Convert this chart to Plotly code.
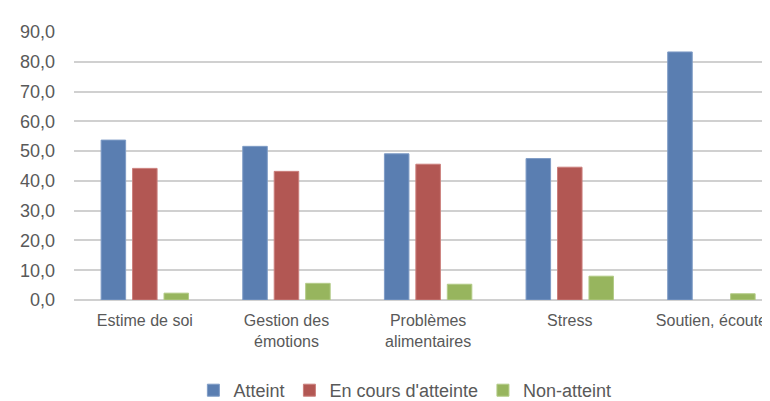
import plotly.graph_objects as go

categories = ["Estime de soi", "Gestion des<br>émotions", "Problèmes<br>alimentaires",
              "Stress", "Soutien, écoute"]
atteint = [53.7, 51.6, 49.1, 47.5, 83.3]
en_cours = [44.2, 43.2, 45.6, 44.6, None]
non_atteint = [2.3, 5.6, 5.3, 8.0, 2.1]

BLUE = "#5A7EB1"
RED = "#B25753"
GREEN = "#97B55E"
TEXT = "#595959"
GRID = "#D0D0D0"
FONT = "Liberation Sans, Arial, sans-serif"

fig = go.Figure()
for name, vals, col, edge in [
    ("Atteint", atteint, BLUE, "#7F9CC6"),
    ("En cours d'atteinte", en_cours, RED, "#CB7F7C"),
    ("Non-atteint", non_atteint, GREEN, "#B3CB87"),
]:
    fig.add_trace(go.Bar(
        x=categories, y=vals, name=name,
        marker=dict(color=col, line=dict(color=edge, width=1)),
    ))

fig.update_layout(
    width=770, height=401,
    margin=dict(l=66, r=0, t=24, b=104),
    paper_bgcolor="white", plot_bgcolor="white",
    font=dict(family=FONT, size=18, color=TEXT),
    barmode="group", bargap=0.334, bargroupgap=0.22,
    separators=", ",
    legend=dict(
        orientation="h", x=0.47, xanchor="center", y=-0.34, yanchor="middle",
        font=dict(size=18, color=TEXT), itemclick=False,
    ),
)
fig.update_xaxes(
    range=[-0.5, 4.47], showgrid=False, showline=False, zeroline=False,
    ticks="", ticklabelstandoff=9, tickfont=dict(size=16, color=TEXT),
)
fig.update_yaxes(
    range=[0, 90], dtick=10, tickformat=".1f",
    showgrid=True, gridcolor=GRID, gridwidth=1.5,
    zeroline=True, zerolinecolor=GRID, zerolinewidth=1.5,
    showline=False, ticks="", ticklabelstandoff=18,
    tickfont=dict(size=18, color=TEXT),
)

fig.write_html("out.html")
